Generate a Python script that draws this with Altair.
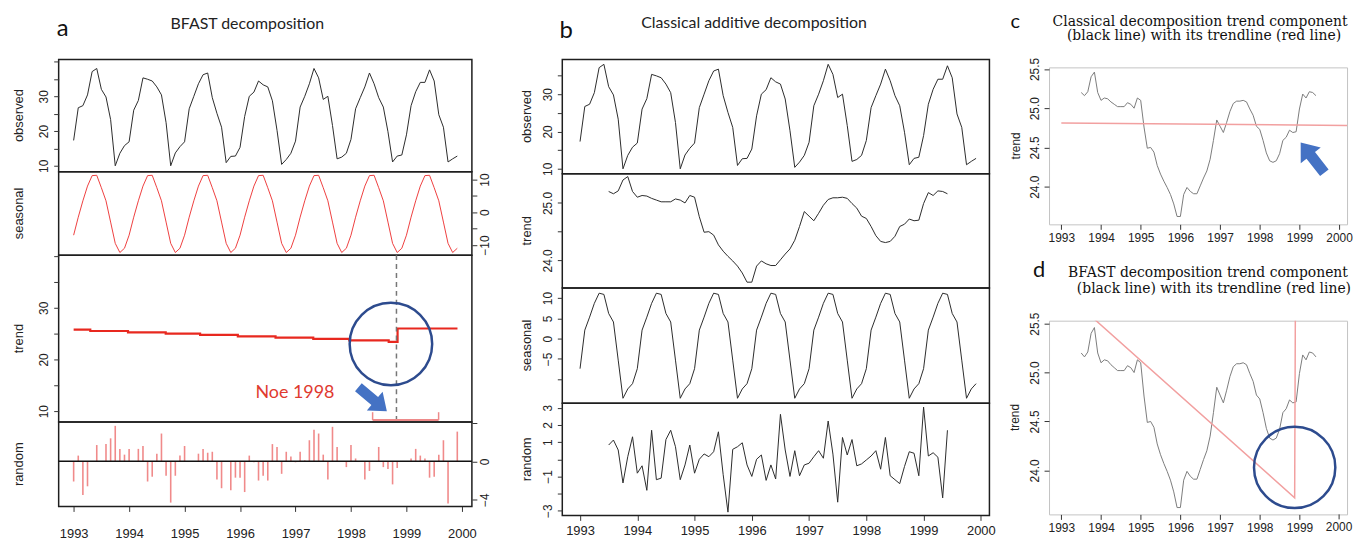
import json
import altair as alt
import pandas as pd

# ---------------- data ----------------
YEARS = [1993, 1994, 1995, 1996, 1997, 1998, 1999, 2000]
START_YEAR = 1993
N_MONTHS = 84

OBSERVED = [17.3, 26.7, 27.3, 30.4, 37.1, 38.0, 32.0, 29.8, 23.3, 10.0, 13.6, 15.8,
            16.9, 26.0, 28.8, 35.3, 34.9, 34.4, 32.7, 30.4, 22.4, 10.0, 13.7, 15.5,
            16.9, 26.4, 30.0, 33.6, 36.2, 36.7, 29.6, 25.1, 21.1, 10.9, 12.7, 12.8,
            15.3, 24.2, 30.0, 31.2, 34.4, 33.3, 32.7, 28.7, 20.2, 10.4, 11.8, 13.6,
            17.1, 26.9, 30.0, 33.6, 38.0, 35.3, 29.1, 30.0, 21.6, 12.0, 12.5, 13.6,
            17.6, 26.4, 29.6, 32.7, 36.7, 33.6, 29.6, 26.9, 19.8, 11.1, 12.8, 13.1,
            18.9, 27.3, 31.3, 34.0, 34.0, 37.6, 34.4, 24.7, 21.1, 11.1, 12.0, 12.8]

SEASONAL_CLASSICAL_CYCLE = [-7.4, 2.1, 5.3, 8.7, 11.2, 10.9, 6.2, 4.1, -5.3, -14.7, -12.4, -11.1]
SEASONAL_BFAST_CYCLE = [-7.0, -1.5, 3.5, 8.0, 11.2, 11.3, 7.5, 3.5, -3.0, -9.5, -12.3, -11.0]

TREND_CLASSICAL = [None] * 6 + [
    25.20, 25.16, 25.21, 25.40, 25.46, 25.20, 25.10, 25.13, 25.12, 25.08, 25.05, 25.02,
    25.02, 25.02, 25.07, 25.05, 25.00, 25.13, 25.10, 24.76, 24.49, 24.50, 24.44, 24.27,
    24.16, 24.07, 23.99, 23.90, 23.78, 23.62, 23.62, 23.90, 23.99, 23.94, 23.91, 23.91,
    24.01, 24.11, 24.20, 24.35, 24.59, 24.85, 24.77, 24.69, 24.82, 24.96, 25.06, 25.09,
    25.09, 25.10, 25.08, 24.99, 24.91, 24.77, 24.73, 24.59, 24.43, 24.33, 24.31, 24.33,
    24.42, 24.59, 24.63, 24.72, 24.69, 24.70, 24.99, 25.18, 25.13, 25.21, 25.20, 25.16] + [None] * 6

RANDOM_CLASSICAL = [None] * 6 + [
    0.83, 1.12, 0.54, -1.38, 0.15, 1.31, -0.81, -0.38, -1.81, 1.69, -1.19, -1.10,
    1.15, 1.69, 0.73, -1.19, -0.33, 0.83, -0.81, 0.00, 0.31, 0.15, 0.44, 1.60,
    -0.90, -3.08, 0.58, 0.73, 0.96, -0.33, -1.00, 0.00, 0.25, -1.23, -0.33, -1.15,
    2.62, 0.54, -1.00, 0.50, -0.96, -0.33, -0.23, 0.15, 0.50, 0.06, 2.23, 0.30,
    -2.50, 1.27, 0.25, 1.15, -0.38, -0.27, -0.04, 0.19, 0.50, -0.58, 1.27, -0.96,
    -1.19, -1.42, -0.42, 0.44, 0.35, -0.96, 3.04, 0.19, 0.38, 0.12, -2.25, 1.69] + [None] * 6

RANDOM_BFAST = [-2.1, 0.6, -3.5, -2.6, 0.0, 1.7, 0.0, 1.8, 2.4, 3.7, 1.3, 0.7,
                1.3, 0.0, 1.3, 1.6, -2.1, -1.6, 0.8, 2.9, -1.5, -4.3, -1.5, 0.6,
                1.6, 0.0, 0.0, 0.8, 1.3, 0.9, 1.0, -1.9, -2.8, 0.0, -3.0, -1.7,
                -1.7, -3.2, 0.6, -0.1, -2.0, -1.5, -2.0, 1.8, 1.5, -1.3, 1.0, 0.5,
                -0.1, 1.0, 0.1, 2.2, 3.3, 2.9, 0.7, -1.9, 3.6, 1.5, 0.0, -0.6,
                1.7, 0.3, 0.0, -1.9, -1.0, 0.0, 1.5, -0.6, -0.8, -2.4, -0.7, 0.0,
                0.0, 0.3, 1.3, 0.6, 0.3, -1.7, -1.6, 0.7, 2.2, -4.4, 0.0, 3.1]

TREND_BFAST_TIME = [1993.0, 1993.30, 1993.98, 1994.66, 1995.28, 1995.96, 1996.64,
                    1997.32, 1997.97, 1998.68, 1998.84, 1999.92]
TREND_BFAST_LEVEL = [25.77, 25.52, 25.26, 25.0, 24.75, 24.49, 24.23, 23.98, 23.71,
                     23.40, 26.0, 26.0]
BREAK_TIME = 1998.82
BREAK_CI_TIME = [1998.39, 1999.58]
BREAK_CI_LEVEL = [8.3, 9.8]
NOTE_TEXT = "Noe 1998"
NOTE_POS = (1996.99, 13.6)
CIRCLE_A = (1998.72, 23.0)
ARROW_A = (1998.39, 12.3)

TRENDLINE_C_TIME = [1993.0, 2000.2]
TRENDLINE_C_VALUE = [24.81, 24.78]
ARROW_C = (1999.33, 24.37)

TRENDLINE_D_TIME = [1993.6, 1998.88, 1998.90]
TRENDLINE_D_VALUE = [25.63, 23.72, 25.9]
CIRCLE_D = (1998.88, 24.03)

# ---------------- tables ----------------
t = [START_YEAR + i / 12 for i in range(N_MONTHS)]
df = pd.DataFrame({
    "t": t,
    "obs": OBSERVED,
    "seas_b": SEASONAL_CLASSICAL_CYCLE * 7,
    "trend_b": TREND_CLASSICAL,
    "rand_b": RANDOM_CLASSICAL,
    "seas_a": SEASONAL_BFAST_CYCLE * 7,
    "rand_a": RANDOM_BFAST,
})
df_ta = pd.DataFrame({"t": TREND_BFAST_TIME, "v": TREND_BFAST_LEVEL})
ONE = pd.DataFrame({"k": [0]})

FONT = "Liberation Sans"
TFONT = "Lato"
SERIF = "DejaVu Serif"
ARROW_PATH = "M -1 -0.28 L 0.15 -0.28 L 0.15 -0.66 L 1 0 L 0.15 0.66 L 0.15 0.28 L -1 0.28 Z"

DOM_A = [1992.73, 2000.18]
DOM_B = [1992.69, 2000.15]
DOM_C = [1992.69, 2000.20]
DOM_D = [1992.69, 2000.20]

W_A, H_A = 416, [113, 84, 168, 85]
W_B, H_B = 430, [115, 115, 116, 113]
W_C, H_C = 300, 158
W_D, H_D = 300, 195


def xs(dom):
    return alt.Scale(domain=dom, nice=False, zero=False)


def x_none(dom):
    return alt.X("t:Q", scale=xs(dom), axis=None)


def x_bottom(dom, pad, size=13, values=YEARS):
    return alt.X("t:Q", scale=xs(dom), axis=alt.Axis(
        values=values, format="d", title=None, grid=False, domain=False,
        tickSize=5, tickColor="#333", labelPadding=pad, labelFontSize=size,
        labelFlush=False, labelFont=FONT, labelColor="#222", labelOverlap=False))


def yaxis(orient, ticks, labels, fmt=None, size=12):
    kw = dict(orient=orient, values=ticks, title=None, grid=False, domain=False,
              tickSize=5, tickColor="#333", labelAngle=270, labelAlign="center",
              labelBaseline="bottom" if orient == "left" else "top",
              labelPadding=3, labelFontSize=size, labelFont=FONT,
              labelOverlap=False, labelColor="#222")
    if labels:
        kw["labelExpr"] = "indexof(%s, datum.value) >= 0 ? datum.label : ''" % json.dumps(labels)
    else:
        kw["labels"] = False
    if fmt:
        kw["format"] = fmt
    return alt.Axis(**kw)


def yenc(field, dom, axis):
    return alt.Y(field, scale=alt.Scale(domain=dom, nice=False, zero=False), axis=axis)


def label(text, x, y, size, font=TFONT, angle=0, color="#111", baseline="alphabetic"):
    m = dict(font=font, fontSize=size, color=color, align="center", baseline=baseline)
    if angle:
        m["angle"] = angle
    return alt.Chart(ONE).mark_text(**m).encode(
        x=alt.value(x), y=alt.value(y), text=alt.value(text))


def vtitle(text, x, h, size=13):
    return label(text, x, h / 2, size, font=FONT, angle=270, color="#222", baseline="middle")


# ---------------- panel a (BFAST) ----------------
obsA = alt.layer(
    alt.Chart(df).mark_line(color="#2b2b2b", strokeWidth=1).encode(
        x=x_none(DOM_A),
        y=yenc("obs:Q", [8.3, 40.6], yaxis("left", [10, 15, 20, 25, 30, 35, 40], [10, 20, 30]))),
    vtitle("observed", -40, H_A[0]),
    label("a", 4, -24, 24),
    label("BFAST decomposition", 190, -31, 16, color="#222"),
).properties(width=W_A, height=H_A[0])

seasA = alt.layer(
    alt.Chart(df).mark_line(color="#ee4040", strokeWidth=1).encode(
        x=x_none(DOM_A),
        y=yenc("seas_a:Q", [-13.1, 12.4], yaxis("right", [-10, -5, 0, 5, 10], [-10, 0, 10]))),
    vtitle("seasonal", -40, H_A[1]),
).properties(width=W_A, height=H_A[1])

Y_TR_A = lambda f: yenc(f, [7.9, 40.2], yaxis("left", [10, 15, 20, 25, 30, 35, 40], [10, 20, 30]))
trendA = alt.layer(
    alt.Chart(df_ta).mark_line(color="#e8281f", strokeWidth=2.2, interpolate="step-after").encode(
        x=x_none(DOM_A), y=Y_TR_A("v:Q")),
    alt.Chart(pd.DataFrame({"t": [BREAK_TIME]})).mark_rule(
        color="#777", strokeDash=[5, 4], strokeWidth=1.5).encode(x=x_none(DOM_A)),
    alt.Chart(pd.DataFrame({"t": [BREAK_CI_TIME[0]], "t2": [BREAK_CI_TIME[1]], "v": [BREAK_CI_LEVEL[0]]}))
    .mark_rule(color="#ee8a8a", strokeWidth=2).encode(x=x_none(DOM_A), x2="t2:Q", y=Y_TR_A("v:Q")),
    alt.Chart(pd.DataFrame({"t": BREAK_CI_TIME, "v": [BREAK_CI_LEVEL[0]] * 2, "v2": [BREAK_CI_LEVEL[1]] * 2}))
    .mark_rule(color="#ee8a8a", strokeWidth=1.5).encode(x=x_none(DOM_A), y=Y_TR_A("v:Q"), y2="v2:Q"),
    alt.Chart(pd.DataFrame({"t": [CIRCLE_A[0]], "v": [CIRCLE_A[1]]})).mark_point(
        shape="circle", filled=False, size=6900, strokeWidth=2.5, color="#2d4b8e", opacity=1).encode(
        x=x_none(DOM_A), y=Y_TR_A("v:Q")),
    alt.Chart(pd.DataFrame({"t": [ARROW_A[0]], "v": [ARROW_A[1]]})).mark_point(
        shape=ARROW_PATH, filled=True, size=1400, angle=40, color="#4472c4", opacity=1, strokeWidth=0).encode(
        x=x_none(DOM_A), y=Y_TR_A("v:Q")),
    alt.Chart(pd.DataFrame({"t": [NOTE_POS[0]], "v": [NOTE_POS[1]], "s": [NOTE_TEXT]})).mark_text(
        font=TFONT, fontSize=18, color="#e03a2f", baseline="middle").encode(
        x=x_none(DOM_A), y=Y_TR_A("v:Q"), text="s:N"),
    vtitle("trend", -40, H_A[2]),
).properties(width=W_A, height=H_A[2])

randA = alt.layer(
    alt.Chart(df).transform_calculate(zero="0").mark_rule(color="#f08a8a", strokeWidth=1.6).encode(
        x=x_bottom(DOM_A, 16),
        y=yenc("zero:Q", [-4.7, 4.1], yaxis("right", [-4, -2, 0, 2, 4], [2, 0, -4])),
        y2="rand_a:Q"),
    alt.Chart(ONE).mark_rule(color="#111", strokeWidth=1.5).encode(y=alt.datum(0)),
    vtitle("random", -40, H_A[3]),
).properties(width=W_A, height=H_A[3])

colA = alt.vconcat(obsA, seasA, trendA, randA, spacing=0, bounds="flush")

# ---------------- panel b (classical) ----------------
LINE_B = dict(color="#2b2b2b", strokeWidth=1)
obsB = alt.layer(
    alt.Chart(df).mark_line(**LINE_B).encode(
        x=x_none(DOM_B),
        y=yenc("obs:Q", [8.7, 39.3], yaxis("left", [10, 15, 20, 25, 30, 35], [10, 20, 30]))),
    vtitle("observed", -36, H_B[0]),
    label("b", 4, -22, 24),
    label("Classical additive decomposition", 193, -32, 16, color="#222"),
).properties(width=W_B, height=H_B[0])

trendB = alt.layer(
    alt.Chart(df).mark_line(**LINE_B).encode(
        x=x_none(DOM_B),
        y=yenc("trend_b:Q", [23.52, 25.51], yaxis("left", [24.0, 24.5, 25.0], [24.0, 25.0], fmt=".1f"))),
    vtitle("trend", -36, H_B[1]),
).properties(width=W_B, height=H_B[1])

seasB = alt.layer(
    alt.Chart(df).mark_line(**LINE_B).encode(
        x=x_none(DOM_B),
        y=yenc("seas_b:Q", [-15.9, 12.5], yaxis("left", [-10, -5, 0, 5, 10], [-5, 0, 5, 10]))),
    vtitle("seasonal", -36, H_B[2]),
).properties(width=W_B, height=H_B[2])

randB = alt.layer(
    alt.Chart(df).mark_line(**LINE_B).encode(
        x=x_bottom(DOM_B, 4),
        y=yenc("rand_b:Q", [-3.27, 3.27], yaxis("left", [-3, -2, -1, 0, 1, 2, 3], [-3, -1, 1, 2, 3]))),
    vtitle("random", -36, H_B[3]),
).properties(width=W_B, height=H_B[3])

colB = alt.vconcat(obsB, trendB, seasB, randB, spacing=0, bounds="flush")

# ---------------- panels c and d ----------------
FRAME_LIGHT = alt.ViewBackground(stroke="#c4c4c4", strokeWidth=1)
XC = x_bottom(DOM_C, 3, 12)
XD = x_bottom(DOM_D, 3, 12, values=YEARS[:-1])
Y_C = lambda f: yenc(f, [23.52, 25.52], yaxis("left", [24.0, 24.5, 25.0, 25.5], [24.0, 24.5, 25.0, 25.5], fmt=".1f"))
chartC = alt.layer(
    alt.Chart(df).mark_line(color="#7c7c7c", strokeWidth=1).encode(x=XC, y=Y_C("trend_b:Q")),
    alt.Chart(pd.DataFrame({"t": TRENDLINE_C_TIME, "trend_b": TRENDLINE_C_VALUE})).mark_line(
        color="#f2a0a0", strokeWidth=1.5, clip=True).encode(x=XC, y=Y_C("trend_b:Q")),
    alt.Chart(pd.DataFrame({"t": [ARROW_C[0]], "trend_b": [ARROW_C[1]]})).mark_point(
        shape=ARROW_PATH, filled=True, size=1500, angle=232, color="#4472c4", opacity=1, strokeWidth=0).encode(
        x=XC, y=Y_C("trend_b:Q")),
    vtitle("trend", -33, H_C, 12),
    label("c", -34, -40, 20),
    label("Classical decomposition trend component", 152, -42, 14, font=SERIF),
    label("(black line) with its trendline (red line)", 156, -28, 14, font=SERIF),
).properties(width=W_C, height=H_C, view=FRAME_LIGHT)

Y_D = lambda f: yenc(f, [23.55, 25.53], yaxis("left", [24.0, 24.5, 25.0, 25.5], [24.0, 24.5, 25.0, 25.5], fmt=".1f"))
LAST_YEAR = pd.DataFrame({"t": [YEARS[-1]], "s": [str(YEARS[-1])]})
chartD = alt.layer(
    alt.Chart(df).mark_line(color="#7c7c7c", strokeWidth=1).encode(x=XD, y=Y_D("trend_b:Q")),
    alt.Chart(pd.DataFrame({"t": TRENDLINE_D_TIME, "trend_b": TRENDLINE_D_VALUE})).mark_line(
        color="#f2a0a0", strokeWidth=1.5, clip=True).encode(x=XD, y=Y_D("trend_b:Q")),
    alt.Chart(pd.DataFrame({"t": [CIRCLE_D[0]], "trend_b": [CIRCLE_D[1]]})).mark_point(
        shape="circle", filled=False, size=6700, strokeWidth=2.5, color="#2d4b8e", opacity=1).encode(
        x=XD, y=Y_D("trend_b:Q")),
    alt.Chart(LAST_YEAR).mark_rule(color="#333", strokeWidth=1).encode(
        x=XD, y=alt.value(H_D), y2=alt.value(H_D + 5)),
    alt.Chart(LAST_YEAR).mark_text(font=FONT, fontSize=12, color="#222", baseline="top").encode(
        x=XD, y=alt.value(H_D + 8), text="s:N"),
    vtitle("trend", -34, H_D, 12),
    label("d", -10, -44, 22),
    label("BFAST decomposition trend component", 160, -44, 14, font=SERIF),
    label("(black line) with its trendline (red line)", 166, -28, 14, font=SERIF),
).properties(width=W_D, height=H_D, view=FRAME_LIGHT)

spacer = alt.Chart(ONE).mark_text().encode(
    x=alt.value(0), y=alt.value(0), text=alt.value(" ")
).properties(width=W_C, height=1, view=alt.ViewBackground(strokeOpacity=0))

colC = alt.vconcat(spacer, alt.vconcat(chartC, chartD, spacing=97, bounds="flush"),
                   spacing=7, bounds="flush")

chart = alt.hconcat(
    alt.hconcat(colA, colB, spacing=28),
    colC, spacing=12,
).properties(
    padding={"left": 4, "top": 1, "right": 0, "bottom": 0},
).configure(font=FONT).configure_view(stroke="#1e1e1e", strokeWidth=1.5)

chart.save("out.html", embed_options={"renderer": "svg", "actions": False})
